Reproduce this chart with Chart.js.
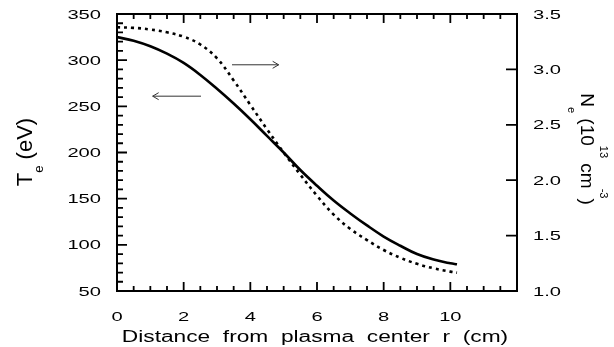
<!DOCTYPE html>
<html><head><meta charset="utf-8">
<script src="https://cdn.jsdelivr.net/npm/chart.js@4"></script>
<style>html,body{margin:0;padding:0;background:#fff}canvas{display:block}</style>
</head><body>
<canvas id="c" width="614" height="347"></canvas>
<script>
// ---- data ----
const radius   = [0,0.5,1,1.5,2,2.5,3,3.5,4,4.5,5,5.5,6,6.5,7,7.5,8,8.5,9,9.5,10,10.2];
const teValues = [325,321,315,307,297,284,269,253,236,218,200,181,164,148,134,121,109,99,90,84,80,79];
const neValues = [3.38,3.375,3.36,3.335,3.295,3.225,3.10,2.90,2.68,2.46,2.25,2.05,1.86,1.69,1.56,1.46,1.37,1.30,1.245,1.205,1.175,1.165];
const xTickLabels  = ['0','2','4','6','8','10'];
const teTickLabels = ['50','100','150','200','250','300','350'];
const neTickLabels = ['1.0','1.5','2.0','2.5','3.0','3.5'];
const arrowToNe = [[3.45,295],[4.85,295]];   // (r, Te) start -> end
const arrowToTe = [[2.52,261],[1.07,261]];

const FONT = '"Liberation Sans", Arial, Helvetica, sans-serif';

function stretchText(ctx, text, x, y, align, base, size, sx) {
  ctx.save();
  ctx.translate(x, y);
  ctx.scale(sx, 1);
  ctx.font = size + 'px ' + FONT;
  ctx.textAlign = align;
  ctx.textBaseline = base;
  ctx.fillText(text, 0, 0);
  ctx.restore();
}
function richRotated(ctx, segs, cx, cy, angle) {
  ctx.save();
  ctx.translate(cx, cy);
  ctx.rotate(angle);
  ctx.textBaseline = 'alphabetic';
  ctx.textAlign = 'left';
  let total = 0;
  const w = segs.map(s => { ctx.font = s.size + 'px ' + FONT; const m = ctx.measureText(s.t).width; total += m; return m; });
  let x = -total / 2;
  segs.forEach((s, i) => { ctx.font = s.size + 'px ' + FONT; ctx.fillText(s.t, x, s.dy); x += w[i]; });
  ctx.restore();
}

const decor = {
  id: 'decor',
  afterDraw(chart) {
    const ctx = chart.ctx, a = chart.chartArea;
    const xs = chart.scales.x, yl = chart.scales.y, yr = chart.scales.y2;
    ctx.save();
    ctx.strokeStyle = '#000'; ctx.fillStyle = '#000';
    ctx.lineWidth = 2;
    ctx.strokeRect(a.left, a.top, a.right - a.left, a.bottom - a.top);
    ctx.lineWidth = 1.8;
    ctx.beginPath();
    for (let i = 0; i <= 24; i++) {
      const v = i * 0.5, px = xs.getPixelForValue(v);
      const len = (i % 4 === 0) ? 9 : 5;
      ctx.moveTo(px, a.bottom); ctx.lineTo(px, a.bottom - len);
      ctx.moveTo(px, a.top); ctx.lineTo(px, a.top + len);
    }
    for (let v = 50; v <= 350; v += 10) {
      const py = yl.getPixelForValue(v);
      const len = (v % 50 === 0) ? 10 : 6;
      ctx.moveTo(a.left, py); ctx.lineTo(a.left + len, py);
    }
    neTickLabels.forEach(t => {
      const py = yr.getPixelForValue(parseFloat(t));
      ctx.moveTo(a.right, py); ctx.lineTo(a.right - 11, py);
    });
    ctx.stroke();

    // tick labels
    xTickLabels.forEach(t => stretchText(ctx, t, xs.getPixelForValue(parseFloat(t)), 317, 'center', 'middle', 13, 1.55));
    teTickLabels.forEach(t => stretchText(ctx, t, 101, yl.getPixelForValue(parseFloat(t)) + 1, 'right', 'middle', 13, 1.55));
    neTickLabels.forEach(t => stretchText(ctx, t, 533, yr.getPixelForValue(parseFloat(t)) + 1, 'left', 'middle', 13, 1.55));

    // axis titles
    stretchText(ctx, 'Distance  from  plasma  center  r  (cm)', 315, 342, 'center', 'alphabetic', 16, 1.42);
    richRotated(ctx, [
      {t:'T', size:22, dy:0}, {t:'e', size:13, dy:11}, {t:' (eV)', size:22, dy:0}
    ], 32, 152, -Math.PI / 2);
    richRotated(ctx, [
      {t:'N', size:19, dy:0}, {t:'e', size:11, dy:13}, {t:' (10', size:19, dy:0},
      {t:'13', size:11, dy:-19}, {t:' cm', size:19, dy:0}, {t:'-3', size:11, dy:-19}, {t:')', size:19, dy:0}
    ], 581, 149, Math.PI / 2);

    // annotation arrows
    ctx.strokeStyle = '#333'; ctx.lineWidth = 1;
    [arrowToNe, arrowToTe].forEach(arr => {
      const x1 = xs.getPixelForValue(arr[0][0]), y1 = yl.getPixelForValue(arr[0][1]);
      const x2 = xs.getPixelForValue(arr[1][0]), y2 = yl.getPixelForValue(arr[1][1]);
      const d = Math.sign(x2 - x1);
      ctx.beginPath();
      ctx.moveTo(x1, y1); ctx.lineTo(x2, y2);
      ctx.moveTo(x2 - d * 6, y2 - 3.5); ctx.lineTo(x2, y2); ctx.lineTo(x2 - d * 6, y2 + 3.5);
      ctx.stroke();
    });
    ctx.restore();
  }
};

new Chart(document.getElementById('c'), {
  type: 'line',
  data: {
    datasets: [
      { label: 'Te', data: radius.map((r, i) => ({x: r, y: teValues[i]})), yAxisID: 'y',
        borderColor: '#000', borderWidth: 2.6, pointRadius: 0, tension: 0.4, fill: false },
      { label: 'Ne', data: radius.map((r, i) => ({x: r, y: neValues[i]})), yAxisID: 'y2',
        borderColor: '#000', borderWidth: 2.6, borderDash: [3, 4], borderCapStyle: 'butt', pointRadius: 0,
        tension: 0.4, fill: false }
    ]
  },
  options: {
    responsive: false, animation: false, devicePixelRatio: 1,
    layout: { padding: { top: 14, left: 0, right: 0, bottom: 0 } },
    plugins: { legend: { display: false }, tooltip: { enabled: false } },
    scales: {
      x: { type: 'linear', min: 0, max: 12, ticks: { display: false, stepSize: 2 },
           grid: { display: false, drawTicks: false }, border: { display: false },
           afterFit: s => { s.height = 56; } },
      y: { position: 'left', min: 50, max: 350, ticks: { display: false, stepSize: 50 },
           grid: { display: false, drawTicks: false }, border: { display: false },
           afterFit: s => { s.width = 117; } },
      y2: { position: 'right', min: 1.0, max: 3.5, ticks: { display: false, stepSize: 0.5 },
            grid: { display: false, drawTicks: false }, border: { display: false },
            afterFit: s => { s.width = 97; } }
    }
  },
  plugins: [decor]
});
</script>
</body></html>
